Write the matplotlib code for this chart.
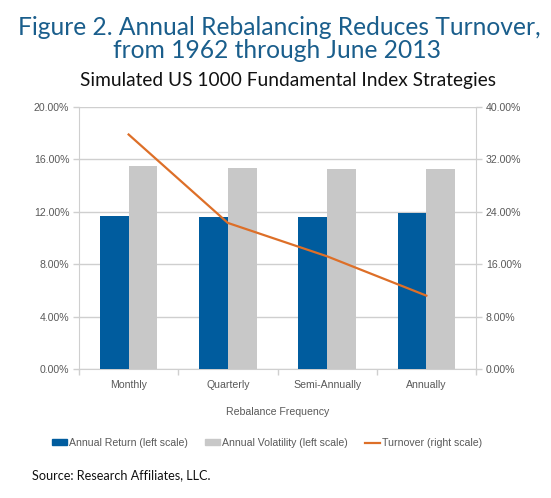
import matplotlib
matplotlib.use("Agg")
import matplotlib.pyplot as plt
import numpy as np
from matplotlib.patches import Patch
from matplotlib.lines import Line2D
from matplotlib.ticker import FixedLocator

categories = ["Monthly", "Quarterly", "Semi-Annually", "Annually"]
annual_return = [11.68, 11.63, 11.58, 11.88]
annual_volatility = [15.50, 15.34, 15.29, 15.24]
turnover = [35.8, 22.3, 17.2, 11.2]
left_ticks = [0, 4, 8, 12, 16, 20]
right_ticks = [0, 8, 16, 24, 32, 40]

BLUE = "#005c9e"
GRAY = "#c8c8c8"
ORANGE = "#dd6f28"
TITLE = "#1a5e8c"
TICK = "#595959"
GRID = "#cfcfcf"
FS = 7.6

W, H = 551, 498
fig = plt.figure(figsize=(W / 100, H / 100), dpi=100)
ax = fig.add_axes([79 / W, 1 - 369 / H, (476 - 79) / W, (369 - 107) / H])
ax2 = ax.twinx()

x = np.arange(len(categories))
bw = 0.29
ax.bar(x - bw / 2, annual_return, bw, color=BLUE, zorder=3)
ax.bar(x + bw / 2, annual_volatility, bw, color=GRAY, zorder=3)
ax2.plot(x, turnover, color=ORANGE, lw=1.6, zorder=4)

ax.set_xlim(-0.5, len(categories) - 0.5)
ax.set_ylim(0, 20)
ax2.set_ylim(0, 40)
ax.set_yticks(left_ticks)
ax.set_yticklabels([f"{v:.2f}%" for v in left_ticks])
ax2.set_yticks(right_ticks)
ax2.set_yticklabels([f"{v:.2f}%" for v in right_ticks])
ax.yaxis.grid(True, color=GRID, lw=1.0, zorder=0)
ax.set_axisbelow(True)

ax.set_xticks(x)
ax.set_xticklabels(categories)
ax.xaxis.set_minor_locator(FixedLocator(np.arange(-0.5, len(categories), 1.0)))
ax.tick_params(axis="x", which="major", length=0, pad=8, labelsize=FS, labelcolor=TICK)
ax.tick_params(axis="x", which="minor", length=4, color=GRID, width=1)
ax.tick_params(axis="y", length=4, color=GRID, width=1, labelsize=FS, labelcolor=TICK, pad=3)
ax2.tick_params(axis="y", length=4, color=GRID, width=1, labelsize=FS, labelcolor=TICK, pad=3)

for a in (ax, ax2):
    for s in a.spines.values():
        s.set_visible(False)
ax.spines["left"].set_visible(True)
ax.spines["left"].set_color(GRID)
ax.spines["bottom"].set_visible(True)
ax.spines["bottom"].set_color(GRID)
ax2.spines["right"].set_visible(True)
ax2.spines["right"].set_color(GRID)

for t in ax.get_xticklabels() + ax.get_yticklabels() + ax2.get_yticklabels():
    t.set_fontfamily("Liberation Sans")

fig.text(278 / W, 1 - 412 / H, "Rebalance Frequency", ha="center", va="center",
         fontsize=FS, color=TICK, family="Liberation Sans")

fig.text(279 / W, 1 - 35 / H, "Figure 2. Annual Rebalancing Reduces Turnover,",
         ha="center", va="baseline", fontsize=17.7, color=TITLE, family="Lato")
fig.text(277 / W, 1 - 58 / H, "from 1962 through June 2013",
         ha="center", va="baseline", fontsize=17.7, color=TITLE, family="Lato")
fig.text(288 / W, 1 - 86 / H, "Simulated US 1000 Fundamental Index Strategies",
         ha="center", va="baseline", fontsize=13.8, color="#111111", family="Lato")
fig.text(32 / W, 1 - 479 / H, "Source: Research Affiliates, LLC.",
         ha="left", va="baseline", fontsize=9.1, color="#111111", family="Lato")

handles = [Patch(color=BLUE), Patch(color=GRAY), Line2D([], [], color=ORANGE, lw=1.6)]
labels = ["Annual Return (left scale)", "Annual Volatility (left scale)", "Turnover (right scale)"]
leg = fig.legend(handles, labels, loc="center", bbox_to_anchor=(267 / W, 1 - 443 / H),
                 ncol=3, frameon=False, handlelength=1.4, handleheight=0.45,
                 handletextpad=0.15, columnspacing=1.7,
                 prop={"family": "Liberation Sans", "size": FS})
for t in leg.get_texts():
    t.set_color(TICK)

fig.savefig("out.png", dpi=100)
